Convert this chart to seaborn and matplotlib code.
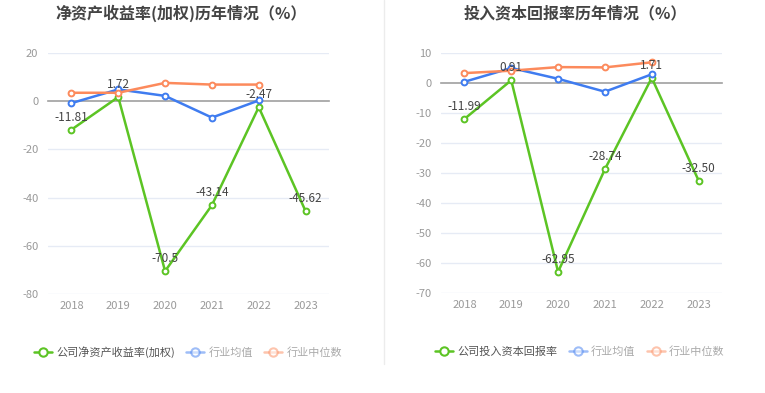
import numpy as np
import pandas as pd
import matplotlib
matplotlib.use("Agg")
import matplotlib.pyplot as plt
from matplotlib.lines import Line2D
import seaborn as sns

# ---------------- data ----------------
years = ["2018", "2019", "2020", "2021", "2022", "2023"]

roe_company = [-11.81, 1.72, -70.5, -43.14, -2.47, -45.62]
roe_company_labels = ["-11.81", "1.72", "-70.5", "-43.14", "-2.47", "-45.62"]
roe_mean = [-0.8, 4.9, 2.2, -6.8, 0.3, np.nan]
roe_median = [3.5, 3.5, 7.6, 6.9, 6.9, np.nan]

roic_company = [-11.99, 0.91, -62.95, -28.74, 1.71, -32.50]
roic_company_labels = ["-11.99", "0.91", "-62.95", "-28.74", "1.71", "-32.50"]
roic_mean = [0.4, 5.0, 1.4, -2.9, 2.9, np.nan]
roic_median = [3.3, 4.1, 5.3, 5.2, 6.9, np.nan]

left_title = "净资产收益率(加权)历年情况（%）"
right_title = "投入资本回报率历年情况（%）"
left_legend = ["公司净资产收益率(加权)", "行业均值", "行业中位数"]
right_legend = ["公司投入资本回报率", "行业均值", "行业中位数"]

left_yticks = [20, 0, -20, -40, -60, -80]
right_yticks = [10, 0, -10, -20, -30, -40, -50, -60, -70]

# ---------------- style ----------------
sns.set_style("white")
plt.rcParams["font.family"] = ["Noto Sans CJK SC", "DejaVu Sans"]

GREEN = "#5cc424"
BLUE = "#3f7cf0"
ORANGE = "#fc8a5c"
GRID = "#e6ebf5"
AXIS = "#a0a0a0"
TICKTXT = "#999999"

W, H = 765, 393
fig = plt.figure(figsize=(W / 100, H / 100), dpi=100)


def px_axes(x0, x1, ytop, ybot):
    return fig.add_axes([x0 / W, 1 - ybot / H, (x1 - x0) / W, (ybot - ytop) / H])


def draw_panel(ax, company, labels, mean, median, yticks, title, title_x, legend_names, legend_x):
    n = len(years)
    pos = list(range(n))
    series = [(company, GREEN, 4), (mean, BLUE, 5), (median, ORANGE, 6)]
    for vals, col, z in series:
        df = pd.DataFrame({"pos": pos, "val": vals}).dropna()
        sns.lineplot(data=df, x="pos", y="val", ax=ax, color=col, linewidth=1.8,
                     marker="o", markersize=4.2, markerfacecolor="white",
                     markeredgecolor=col, markeredgewidth=1.4, zorder=z)
    ax.set_xlim(-0.5, n - 0.5)
    ax.set_ylim(min(yticks), max(yticks))
    ax.set_yticks(yticks)
    ax.set_yticklabels([str(t) for t in yticks])
    ax.set_xlabel("")
    ax.set_ylabel("")
    for t in yticks:
        if t != 0:
            ax.axhline(t, color=GRID, linewidth=1, zorder=0)
    for s in ["top", "right", "left"]:
        ax.spines[s].set_visible(False)
    ax.spines["bottom"].set_position(("data", 0))
    ax.spines["bottom"].set_color(AXIS)
    ax.spines["bottom"].set_linewidth(1.2)
    ax.set_xticks(pos)
    ax.tick_params(axis="x", direction="out", length=4, width=1, color=AXIS, labelbottom=False)
    ax.tick_params(axis="y", length=0, pad=7, labelsize=8, labelcolor=TICKTXT)
    sec = ax.secondary_xaxis(0)
    sec.set_xticks(pos)
    sec.set_xticklabels(years)
    sec.tick_params(length=0, pad=5, labelsize=8, labelcolor=TICKTXT)
    sec.spines["bottom"].set_visible(False)
    for p, v, lab in zip(pos, company, labels):
        ax.annotate(lab, (p, v), xytext=(0, 9), textcoords="offset points",
                    ha="center", va="center", fontsize=8.5, color="#444444", zorder=10)
    fig.text(title_x / W, 1 - 13 / H, title, ha="center", va="center",
             fontsize=11.5, fontweight="bold", color="#444444")
    handles = [
        Line2D([], [], color=GREEN, linewidth=1.8, marker="o", markersize=6,
               markerfacecolor="white", markeredgecolor=GREEN, markeredgewidth=1.5),
        Line2D([], [], color=BLUE, linewidth=1.8, marker="o", markersize=6, alpha=0.5,
               markerfacecolor="white", markeredgecolor=BLUE, markeredgewidth=1.5),
        Line2D([], [], color=ORANGE, linewidth=1.8, marker="o", markersize=6, alpha=0.5,
               markerfacecolor="white", markeredgecolor=ORANGE, markeredgewidth=1.5),
    ]
    leg = fig.legend(handles, legend_names, loc="center", ncol=3,
                     bbox_to_anchor=(legend_x / W, 1 - 352 / H), frameon=False,
                     fontsize=8, handlelength=1.6, handletextpad=0.4, columnspacing=1.0)
    cols = ["#555555", "#aaaaaa", "#aaaaaa"]
    for txt, c in zip(leg.get_texts(), cols):
        txt.set_color(c)


axL = px_axes(48, 329, 53, 294)
draw_panel(axL, roe_company, roe_company_labels, roe_mean, roe_median, left_yticks,
           left_title, 181, left_legend, 188)

axR = px_axes(441, 722, 53, 293)
draw_panel(axR, roic_company, roic_company_labels, roic_mean, roic_median, right_yticks,
           right_title, 575, right_legend, 580)

fig.add_artist(Line2D([384 / W, 384 / W], [1 - 0 / H, 1 - 364 / H],
                      transform=fig.transFigure, color="#ececec", linewidth=1))

fig.savefig("out.png", dpi=100, facecolor="white")
